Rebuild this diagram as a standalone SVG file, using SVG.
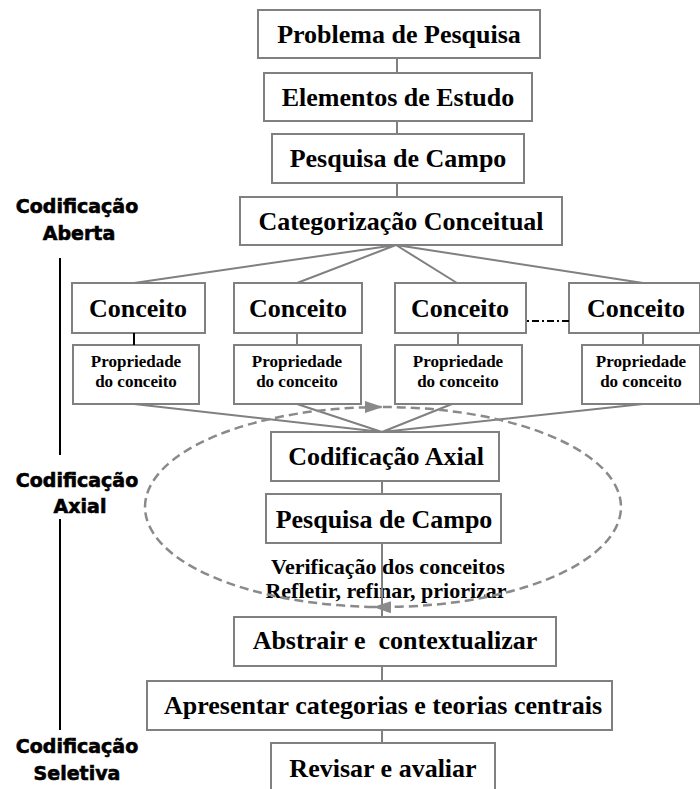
<svg xmlns="http://www.w3.org/2000/svg" width="700" height="789" viewBox="0 0 700 789">
<style>
.box{fill:#fff;stroke:#808080;stroke-width:2}
.t{font-family:"Liberation Serif","Times New Roman",serif;font-weight:bold;font-size:26px;text-anchor:middle;fill:#000}
.ts{font-size:17px}
.tm{font-size:22px}
.lbl{font-family:"DejaVu Sans",Verdana,sans-serif;font-weight:bold;font-size:19px;text-anchor:middle;fill:#000;stroke:#000;stroke-width:0.6}
.c{stroke:#808080;stroke-width:2;fill:none}
.k{stroke:#000;stroke-width:2;fill:none}
.loop{stroke:#8a8a8a;stroke-width:2.5;fill:none;stroke-dasharray:9 5}
</style>
<defs>
<marker id="ah" markerUnits="userSpaceOnUse" markerWidth="18" markerHeight="12" viewBox="0 0 18 12" refX="18" refY="6" orient="auto">
<path d="M0,0 L18,6 L0,12 z" fill="#8a8a8a"/>
</marker>
</defs>
<rect width="700" height="789" fill="#fff"/>

<g id="labels">
<text class="lbl" x="77" y="213">Codificação</text>
<text class="lbl" x="79" y="240">Aberta</text>
<text class="lbl" x="77" y="487">Codificação</text>
<text class="lbl" x="80" y="513">Axial</text>
<text class="lbl" x="77" y="753">Codificação</text>
<text class="lbl" x="77" y="780">Seletiva</text>
<path class="k" d="M60,258 V455 M60,519 V730"/>
</g>

<g id="n-problema"><rect class="box" x="258" y="10" width="282" height="48"/><text class="t" x="399" y="43">Problema de Pesquisa</text></g>
<g id="n-elementos"><rect class="box" x="264" y="73" width="268" height="48"/><text class="t" x="398" y="106">Elementos de Estudo</text></g>
<g id="n-pesquisa1"><rect class="box" x="272" y="134" width="252" height="49"/><text class="t" x="398" y="167">Pesquisa de Campo</text></g>
<g id="n-categorizacao"><rect class="box" x="240" y="197" width="322" height="48"/><text class="t" x="401" y="230">Categorização Conceitual</text></g>

<g id="n-conceito1"><rect class="box" x="72" y="283" width="133" height="50"/><text class="t" x="138" y="317">Conceito</text></g>
<g id="n-conceito2"><rect class="box" x="234" y="283" width="128" height="50"/><text class="t" x="298" y="317">Conceito</text></g>
<g id="n-conceito3"><rect class="box" x="395" y="283" width="131" height="50"/><text class="t" x="460" y="317">Conceito</text></g>
<g id="n-conceito4"><rect class="box" x="569" y="283" width="131" height="50"/><text class="t" x="636" y="317">Conceito</text></g>

<g id="n-prop1"><rect class="box" x="73" y="345" width="126" height="59"/><text class="t ts" x="136" y="367">Propriedade</text><text class="t ts" x="136" y="387">do conceito</text></g>
<g id="n-prop2"><rect class="box" x="234" y="345" width="127" height="59"/><text class="t ts" x="297" y="367">Propriedade</text><text class="t ts" x="297" y="387">do conceito</text></g>
<g id="n-prop3"><rect class="box" x="395" y="345" width="127" height="59"/><text class="t ts" x="458" y="367">Propriedade</text><text class="t ts" x="458" y="387">do conceito</text></g>
<g id="n-prop4"><rect class="box" x="582" y="345" width="118" height="59"/><text class="t ts" x="641" y="367">Propriedade</text><text class="t ts" x="641" y="387">do conceito</text></g>

<g id="n-axial"><rect class="box" x="271" y="432" width="228" height="49"/><text class="t" x="386" y="465">Codificação Axial</text></g>
<g id="n-pesquisa2"><rect class="box" x="266" y="494" width="235" height="49"/><text class="t" x="384" y="528">Pesquisa de Campo</text></g>
<g id="n-verificacao"><text class="t tm" x="388" y="574">Verificação dos conceitos</text><text class="t tm" x="386" y="598">Refletir, refinar, priorizar</text></g>
<g id="n-abstrair"><rect class="box" x="234" y="617" width="322" height="49"/><text class="t" x="395" y="649" xml:space="preserve">Abstrair e  contextualizar</text></g>
<g id="n-apresentar"><rect class="box" x="147" y="681" width="465" height="49"/><text class="t" x="383" y="714">Apresentar categorias e teorias centrais</text></g>
<g id="n-revisar"><rect class="box" x="271" y="743" width="224" height="52"/><text class="t" x="383" y="777">Revisar e avaliar</text></g>

<g id="connectors">
<path class="c" d="M397,58 V73 M397,121 V134 M397,183 V197"/>
<path class="c" d="M396,245 L134,283 M396,245 L297,283 M396,245 L457,283 M396,245 L643,283"/>
<path class="k" d="M134,333 V345"/>
<path class="c" d="M297,333 V345 M458,333 V345 M643,333 V345"/>
<path class="c" d="M134,404 L382,432 M297,404 L382,432 M452,404 L382,432 M643,404 L382,432"/>
<path class="c" d="M382,481 V494 M382,543 V617 M382,666 V681 M382,730 V743"/>
<path d="M527,321 H569" stroke="#000" stroke-width="2" stroke-dasharray="2 3 7 3"/>
<path class="loop" d="M145,507 A238,100 0 0,1 383,407" marker-end="url(#ah)"/>
<path class="loop" d="M383,407 A238,100 0 0,1 621,507 A238,100 0 0,1 373,606.9" marker-end="url(#ah)"/>
<path class="loop" d="M373,606.9 A238,100 0 0,1 145,507"/>
</g>
</svg>
